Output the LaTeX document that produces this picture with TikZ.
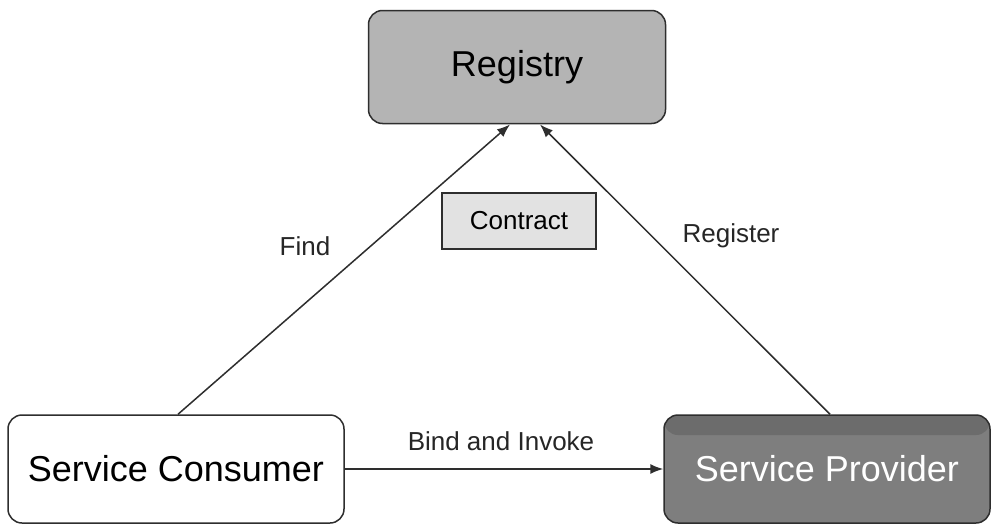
\documentclass[tikz,border=0pt]{standalone}
\usepackage{fontspec}
\setmainfont{Liberation Sans}
\usetikzlibrary{arrows.meta}
\definecolor{regfill}{HTML}{B4B4B4}
\definecolor{provfill}{HTML}{7E7E7E}
\definecolor{provband}{HTML}{6C6C6C}
\definecolor{confill}{HTML}{E2E2E2}
\definecolor{edge}{HTML}{2E2E2E}
\tikzset{
  bigbox/.style={draw=edge, line width=1.5pt, rounded corners=14pt, inner sep=0pt,
    font=\fontsize{36}{40}\selectfont},
  smallbox/.style={draw=edge, line width=1.5pt, fill=confill, inner sep=0pt,
    font=\fontsize{26}{30}\selectfont},
  lbl/.style={inner sep=0pt, text=black!85, font=\fontsize{26}{30}\selectfont},
  conn/.style={draw=edge, line width=1.5pt, -{Latex[length=13pt,width=10pt]}}
}
\begin{document}
\begin{tikzpicture}[x=1pt,y=-1pt]
\useasboundingbox (0,0) rectangle (994,525);
\fill[white] (0,0) rectangle (994,525);

% the three parties
\node[bigbox, fill=regfill, minimum width=297pt, minimum height=113pt]
  (reg) at (517,67) {Registry};
\node[bigbox, fill=white, minimum width=336pt, minimum height=108pt]
  (cons) at (176,469) {Service Consumer};
\node[bigbox, fill=provfill, text=white, minimum width=326pt, minimum height=108pt,
  path picture={\fill[provband] (path picture bounding box.north west)
     rectangle ([yshift=-20pt]path picture bounding box.north east);}]
  (prov) at (827,469) {\raisebox{-2pt}{Service Provider}};

% the service contract
\node[smallbox, minimum width=154pt, minimum height=56pt] (contract) at (519,221) {Contract};

% interactions
\draw[conn] (cons.north -| 178,0) -- (510,124.5);
\draw[conn] (prov.north -| 830,0) -- (540,124.5);
\draw[conn] (cons.east) -- (prov.west);

% interaction labels
\node[lbl] (find) at (305,246) {Find};
\node[lbl] (register) at (731,236) {Register};
\node[lbl] (bind) at (501,441) {Bind and Invoke};
\end{tikzpicture}
\end{document}
